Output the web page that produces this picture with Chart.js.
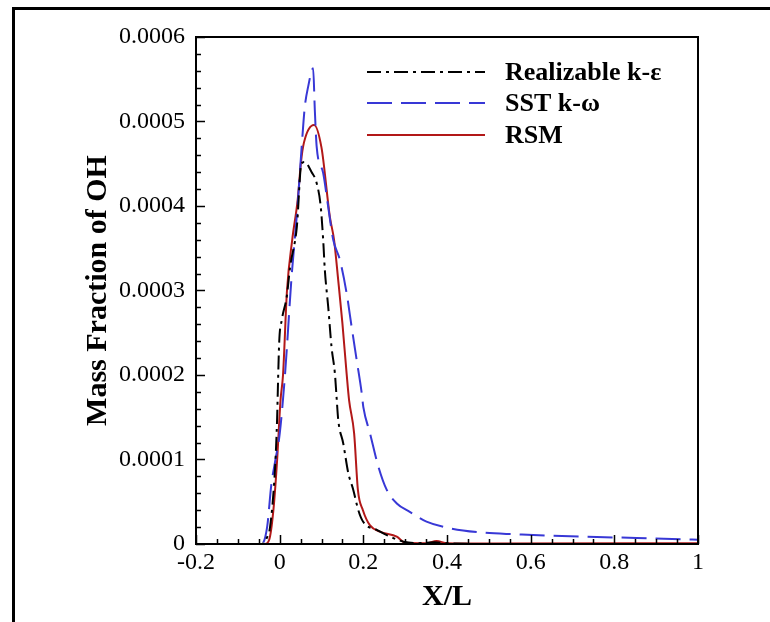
<!DOCTYPE html>
<html>
<head>
  <title>Mass Fraction of OH</title>
  <script src="https://cdn.jsdelivr.net/npm/chart.js"></script>
  <style>
    body { margin: 0; background: #fff; }
    #chartBox { width: 770px; height: 622px; }
  </style>
</head>
<body>
  <div id="chartBox"><canvas id="ohChart" width="770" height="622"></canvas></div>
  <script>
    // values (X/L , mass fraction)
    var rkeX = [-0.2, -0.043, -0.03, -0.023, -0.011, -0.006, -0.004, -0.001, 0.005, 0.017, 0.025, 0.041, 0.052, 0.06, 0.0765, 0.0885, 0.098, 0.104, 0.108, 0.116, 0.124, 0.132, 0.136, 0.14, 0.152, 0.164, 0.176, 0.188, 0.2, 0.232, 0.264, 0.296, 0.33, 0.37, 0.4, 0.5, 1.0];
    var rkeY = [0, 0, 0.000008, 0.00002, 0.00009, 0.00015, 0.00019, 0.00024, 0.000265, 0.000293, 0.000328, 0.000375, 0.00045, 0.000452, 0.00044, 0.000427, 0.0004, 0.00036, 0.000324, 0.000281, 0.000233, 0.000202, 0.000174, 0.000147, 0.000119, 0.000084, 0.000064, 0.00004, 0.000026, 0.0000166, 0.0000087, 0.0000027, 0.000001, 0.000002, 0.000001, 0, 0];

    var sstX = [-0.2, -0.043, -0.03, -0.02, -0.01, 0.0, 0.0127, 0.0286, 0.042, 0.0526, 0.06, 0.068, 0.08, 0.084, 0.0885, 0.104, 0.116, 0.128, 0.144, 0.16, 0.172, 0.184, 0.196, 0.2, 0.216, 0.236, 0.256, 0.28, 0.311, 0.351, 0.407, 0.487, 0.566, 0.646, 0.758, 0.853, 0.965, 1.0];
    var sstY = [0, 0, 0.00002, 0.00007, 0.0001, 0.00013, 0.0002, 0.000317, 0.000395, 0.00047, 0.000517, 0.000541, 0.000563, 0.000514, 0.00047, 0.000439, 0.000399, 0.00036, 0.000336, 0.000297, 0.000257, 0.000218, 0.000179, 0.000162, 0.000131, 0.0000915, 0.000064, 0.000048, 0.000038, 0.0000264, 0.0000186, 0.0000134, 0.0000115, 0.0000098, 0.0000083, 0.0000071, 0.0000056, 0.000005];

    var rsmX = [-0.2, -0.035, -0.025, -0.015, -0.006, 0.002, 0.008, 0.0175, 0.03, 0.043, 0.051, 0.058, 0.082, 0.1, 0.12, 0.13, 0.14, 0.15, 0.16, 0.166, 0.178, 0.187, 0.199, 0.216, 0.24, 0.28, 0.3, 0.35, 0.375, 0.4, 0.5, 1.0];
    var rsmY = [0, 0, 0.000005, 0.00004, 0.0001, 0.00017, 0.0002, 0.0003, 0.00036, 0.000407, 0.000452, 0.000475, 0.000496, 0.000469, 0.000387, 0.00036, 0.000312, 0.000261, 0.000202, 0.00017, 0.000131, 0.000064, 0.00004, 0.000022, 0.0000146, 0.0000087, 0.0000015, 0.000001, 0.0000035, 0.000001, 0.0000005, 0.000001];

    var seriesNames = ['Realizable k-\u03b5', 'SST k-\u03c9', 'RSM'];

    // axis ranges and tick steps
    var xMin = -0.2, xMax = 1.0, xMajor = 0.2, xMinor = 0.05;
    var yMin = 0, yMax = 0.0006, yMajor = 0.0001, yMinor = 0.00002;

    function pts(xs, ys) {
      var out = [];
      for (var i = 0; i < xs.length; i++) out.push({x: xs[i], y: ys[i]});
      return out;
    }

    var serif = "'Liberation Serif', 'Times New Roman', serif";

    // frame, inner ticks and legend drawn on top of the chart
    var decor = {
      id: 'decor',
      beforeDraw: function(chart) {
        var c = chart.ctx;
        c.save();
        c.fillStyle = '#fff';
        c.fillRect(0, 0, chart.width, chart.height);
        c.fillStyle = '#000';
        c.fillRect(12, 7, chart.width - 12, 3);
        c.fillRect(12, 7, 3, chart.height - 7);
        c.restore();
      },
      afterDraw: function(chart) {
        var c = chart.ctx, a = chart.chartArea;
        var xs = chart.scales.x, ys = chart.scales.y;
        c.save();
        c.strokeStyle = '#000';
        c.lineWidth = 1.5;
        c.beginPath();
        var n = Math.round((xMax - xMin) / xMinor);
        for (var i = 0; i <= n; i++) {
          var v = xMin + i * xMinor;
          var px = Math.round(xs.getPixelForValue(v)) + 0.5;
          var len = (i % 4 === 0) ? 9 : 5;
          c.moveTo(px, a.bottom);
          c.lineTo(px, a.bottom - len);
        }
        var m = Math.round((yMax - yMin) / yMinor);
        for (var j = 0; j <= m; j++) {
          var w = yMin + j * yMinor;
          var py = Math.round(ys.getPixelForValue(w)) + 0.5;
          var len2 = (j % 5 === 0) ? 9 : 5;
          c.moveTo(a.left, py);
          c.lineTo(a.left + len2, py);
        }
        c.stroke();

        c.lineWidth = 2;
        c.strokeRect(a.left, a.top, a.right - a.left, a.bottom - a.top);

        // legend
        var rows = [72, 103, 135];
        chart.data.datasets.forEach(function(ds, k) {
          c.strokeStyle = ds.borderColor;
          c.lineWidth = 2;
          c.setLineDash(ds.borderDash || []);
          c.beginPath();
          c.moveTo(367, rows[k]);
          c.lineTo(485, rows[k]);
          c.stroke();
          c.setLineDash([]);
          c.fillStyle = '#000';
          c.font = 'bold 26px ' + serif;
          c.textBaseline = 'middle';
          c.textAlign = 'left';
          c.fillText(ds.label, 505, rows[k] + 1);
        });
        c.restore();
      }
    };

    var ctx = document.getElementById('ohChart').getContext('2d');
    var ohChart = new Chart(ctx, {
      type: 'line',
      data: {
        datasets: [{
          label: seriesNames[0],
          data: pts(rkeX, rkeY),
          borderColor: '#000000',
          borderDash: [14, 5, 3, 5],
          borderWidth: 2
        }, {
          label: seriesNames[1],
          data: pts(sstX, sstY),
          borderColor: 'rgb(56, 56, 214)',
          borderDash: [25, 9],
          borderWidth: 2
        }, {
          label: seriesNames[2],
          data: pts(rsmX, rsmY),
          borderColor: 'rgb(178, 24, 24)',
          borderWidth: 2
        }]
      },
      options: {
        responsive: false,
        animation: false,
        devicePixelRatio: 1,
        layout: { padding: { left: 0, right: 72, top: 37, bottom: 0 } },
        elements: {
          point: { radius: 0 },
          line: { tension: 0.2, cubicInterpolationMode: 'monotone', fill: false }
        },
        plugins: {
          legend: { display: false },
          tooltip: { enabled: false }
        },
        scales: {
          x: {
            type: 'linear',
            min: xMin,
            max: xMax,
            grid: { display: false, drawTicks: false },
            border: { display: false },
            ticks: {
              stepSize: xMajor,
              autoSkip: false,
              maxRotation: 0,
              padding: 4,
              color: '#000',
              font: { family: serif, size: 24 },
              callback: function(v) { return String(Math.round(v * 10) / 10); }
            },
            title: {
              display: true,
              text: 'X/L',
              color: '#000',
              font: { family: serif, size: 30, weight: 'bold' },
              padding: { top: 0, bottom: 7 }
            },
            afterFit: function(scale) { scale.height = 78; }
          },
          y: {
            type: 'linear',
            min: yMin,
            max: yMax,
            grid: { display: false, drawTicks: false },
            border: { display: false },
            ticks: {
              stepSize: yMajor,
              padding: 11,
              color: '#000',
              font: { family: serif, size: 24 },
              callback: function(v) { return String(Math.round(v * 10000) / 10000); }
            },
            title: {
              display: true,
              text: 'Mass Fraction of OH',
              color: '#000',
              font: { family: serif, size: 30, weight: 'bold' },
              padding: { top: 80, bottom: 0 }
            },
            afterFit: function(scale) { scale.width = 196; }
          }
        }
      },
      plugins: [decor]
    });
  </script>
</body>
</html>
